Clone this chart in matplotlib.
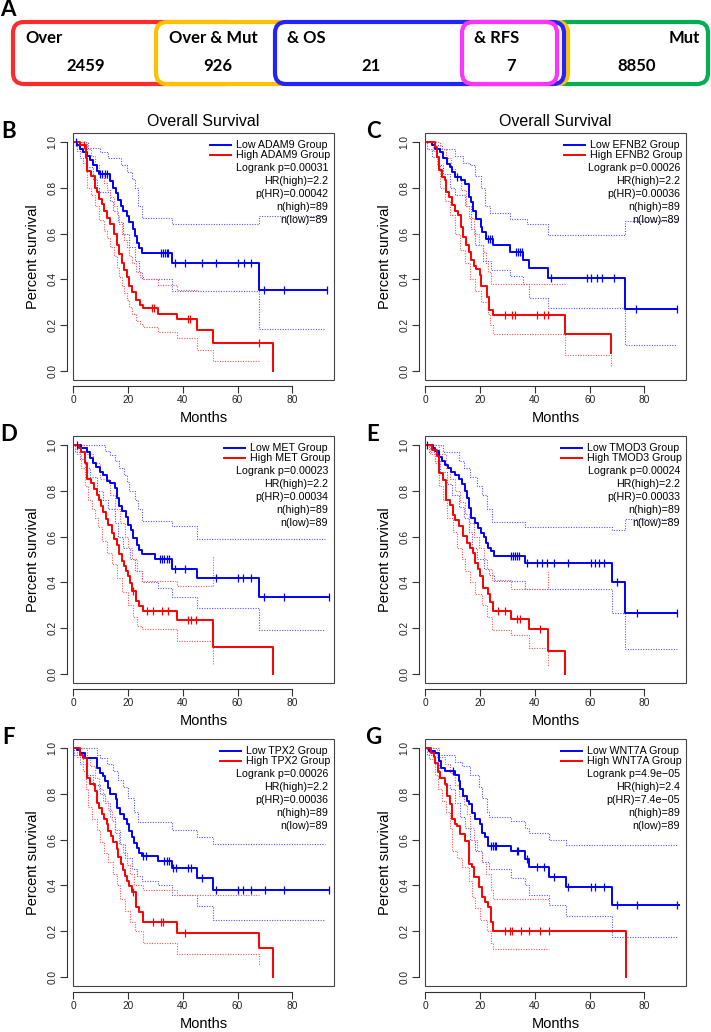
import matplotlib
matplotlib.use("Agg")
import matplotlib.pyplot as plt
from matplotlib.patches import FancyBboxPatch, Rectangle
import numpy as np

plt.rcParams["font.family"] = ["Liberation Sans", "DejaVu Sans"]

# ---- panel A: overlap counts ----
OVERLAP_LABELS = ["Over", "Over & Mut", "& OS", "& RFS", "Mut"]
OVERLAP_COUNTS = [2459, 926, 21, 7, 8850]

# ---- panels B-G: KM curves, [months, survival] step points ----
GENES = ["ADAM9", "EFNB2", "MET", "TMOD3", "TPX2", "WNT7A"]
LOGRANK_P = ["0.00031", "0.00026", "0.00023", "0.00024", "0.00026", "4.9e\u221205"]
HR_HIGH = ["2.2", "2.2", "2.2", "2.2", "2.2", "2.4"]
P_HR = ["0.00042", "0.00036", "0.00034", "0.00033", "0.00036", "7.4e\u221205"]
N_HIGH = [89, 89, 89, 89, 89, 89]
N_LOW = [89, 89, 89, 89, 89, 89]

B_LOW = [[0, 1], [1.5, 0.985], [2.4, 0.97], [3.7, 0.955], [5.1, 0.94], [6.1, 0.92], [7.3, 0.9], [8.5, 0.875],
         [9.5, 0.86], [13.4, 0.83], [14.6, 0.80], [15.6, 0.775], [16.4, 0.745], [17.3, 0.72], [18.3, 0.70],
         [19.5, 0.675], [20.5, 0.65], [21.9, 0.62], [22.5, 0.59], [23.1, 0.56], [24.1, 0.535], [25.2, 0.515],
         [35.9, 0.472], [68.0, 0.354], [92.6, 0.354]]
B_HIGH = [[0, 1], [2.4, 0.985], [4.6, 0.93], [5.2, 0.875], [6.3, 0.85], [7.9, 0.80], [8.8, 0.78], [9.5, 0.75],
          [10.4, 0.73], [11.2, 0.70], [12.2, 0.67], [13.4, 0.64], [15.0, 0.60], [15.8, 0.55], [16.7, 0.51],
          [17.7, 0.47], [18.6, 0.44], [19.5, 0.41], [20.5, 0.37], [21.3, 0.345], [22.9, 0.31], [24.4, 0.29],
          [25.3, 0.275], [31.1, 0.25], [37.8, 0.225], [45.1, 0.18], [50.9, 0.12], [73.1, 0.0]]
B_LOW_UP = [[0, 1], [5.5, 0.975], [9.7, 0.955], [12.8, 0.93], [17.3, 0.9], [19.5, 0.87], [21.3, 0.84],
            [22.5, 0.80], [23.8, 0.72], [25.2, 0.668], [35.9, 0.643], [68.0, 0.676], [91.5, 0.676]]
B_LOW_DN = [[0, 1], [1.5, 0.96], [2.4, 0.93], [3.7, 0.91], [5.1, 0.89], [7.3, 0.84], [8.5, 0.80], [9.5, 0.78],
            [13.4, 0.74], [14.6, 0.70], [16.4, 0.65], [18.3, 0.6], [20.5, 0.54], [22.5, 0.48], [24.1, 0.43],
            [25.2, 0.40], [35.9, 0.35], [68.0, 0.185], [91.5, 0.185]]
B_HIGH_UP = [[0, 1], [4.6, 0.99], [5.2, 0.97], [6.3, 0.94], [7.9, 0.9], [9.5, 0.86], [11.2, 0.82], [12.2, 0.79],
             [13.4, 0.76], [15.0, 0.72], [15.8, 0.68], [16.7, 0.64], [17.7, 0.60], [18.6, 0.57], [19.5, 0.54],
             [20.5, 0.50], [21.3, 0.47], [22.9, 0.43], [24.4, 0.41], [25.3, 0.40], [31.1, 0.375], [37.8, 0.355],
             [45.1, 0.355]]
B_HIGH_DN = [[0, 1], [2.4, 0.955], [4.6, 0.87], [5.2, 0.80], [6.3, 0.77], [7.9, 0.72], [9.5, 0.66], [11.2, 0.61],
             [12.2, 0.58], [13.4, 0.54], [15.0, 0.50], [15.8, 0.45], [16.7, 0.41], [17.7, 0.37], [18.6, 0.34],
             [19.5, 0.31], [20.5, 0.28], [21.3, 0.25], [22.9, 0.22], [24.4, 0.205], [25.3, 0.19], [31.1, 0.17],
             [37.8, 0.145], [45.1, 0.093], [50.9, 0.042], [68.0, 0.042]]
B_LOW_CENS = [1.0, 9.7, 10.6, 11.5, 12.5, 31.9, 32.6, 33.4, 34.1, 34.7, 37.1, 40.9, 47.0, 52.0, 60.0, 62.2,
              64.8, 69.8, 77.0, 92.6]
B_HIGH_CENS = [4.0, 28.6, 29.5, 42.0, 42.6, 68.0]

C_LOW = [[0, 1], [2.3, 0.985], [3.5, 0.97], [5.2, 0.955], [6.5, 0.93], [8.0, 0.905], [8.9, 0.89], [9.7, 0.87],
         [10.7, 0.845], [12.9, 0.835], [14.4, 0.818], [15.8, 0.76], [16.8, 0.738], [17.4, 0.70], [18.6, 0.665],
         [20.2, 0.63], [20.8, 0.607], [22.0, 0.578], [24.7, 0.55], [30.8, 0.52], [35.7, 0.485], [37.8, 0.45],
         [44.9, 0.405], [72.9, 0.27], [91.9, 0.27]]
C_HIGH = [[0, 1], [3.5, 0.98], [4.3, 0.935], [4.9, 0.876], [6.1, 0.847], [7.1, 0.835], [7.7, 0.78], [8.6, 0.76],
          [9.7, 0.723], [10.7, 0.70], [11.9, 0.68], [12.9, 0.63], [13.7, 0.585], [15.0, 0.55], [15.9, 0.52],
          [16.8, 0.483], [17.7, 0.46], [18.6, 0.447], [19.9, 0.418], [20.5, 0.37], [22.6, 0.323], [23.3, 0.265],
          [24.6, 0.243], [50.9, 0.163], [67.8, 0.079]]
C_LOW_UP = [[0, 1], [3.5, 0.985], [6.1, 0.97], [10.7, 0.94], [13.7, 0.91], [16.2, 0.9], [18.0, 0.85], [20.5, 0.80],
            [21.7, 0.72], [23.5, 0.69], [30.8, 0.665], [37.0, 0.64], [44.9, 0.595], [72.9, 0.655], [91.9, 0.655]]
C_LOW_DN = [[0, 1], [0.5, 0.97], [2.3, 0.935], [4.7, 0.90], [6.5, 0.86], [8.9, 0.80], [10.7, 0.77], [14.4, 0.72],
            [16.8, 0.62], [18.0, 0.55], [21.1, 0.48], [24.1, 0.44], [30.8, 0.415], [35.7, 0.38], [37.8, 0.32],
            [44.9, 0.275], [72.9, 0.115], [91.9, 0.115]]
C_HIGH_UP = [[0, 1], [5.3, 0.97], [7.7, 0.93], [9.5, 0.88], [10.7, 0.85], [13.1, 0.79], [14.9, 0.72], [16.1, 0.67],
             [17.9, 0.60], [19.7, 0.55], [21.0, 0.52], [22.2, 0.47], [22.8, 0.43], [24.1, 0.38], [50.9, 0.38]]
C_HIGH_DN = [[0, 1], [2.9, 0.96], [4.1, 0.90], [5.3, 0.80], [7.1, 0.74], [8.9, 0.68], [10.7, 0.60], [12.6, 0.53],
             [14.4, 0.47], [16.2, 0.40], [18.0, 0.35], [20.5, 0.30], [22.7, 0.25], [23.6, 0.20], [24.6, 0.16],
             [50.9, 0.07], [67.8, 0.02]]
C_LOW_CENS = [11.7, 22.8, 23.6, 24.3, 33.2, 34.0, 34.7, 35.2, 46.0, 59.1, 60.6, 62.5, 64.5, 68.7, 76.9, 91.9]
C_HIGH_CENS = [28.9, 31.7, 32.9, 40.8, 43.2, 44.8]

D_LOW = [[0, 1], [3.0, 0.986], [5.1, 0.971], [6.1, 0.942], [7.3, 0.92], [8.3, 0.903], [9.7, 0.884], [11.0, 0.87],
         [12.4, 0.841], [13.4, 0.833], [15.2, 0.812], [16.1, 0.768], [16.8, 0.732], [17.7, 0.71], [19.2, 0.686],
         [20.1, 0.652], [21.1, 0.63], [21.9, 0.594], [23.4, 0.565], [24.1, 0.543], [25.0, 0.522], [29.8, 0.50],
         [35.9, 0.46], [45.1, 0.418], [68.0, 0.335], [93.2, 0.335]]
D_HIGH = [[0, 1], [2.2, 0.986], [3.0, 0.971], [4.3, 0.92], [5.1, 0.851], [6.3, 0.833], [7.7, 0.807], [8.5, 0.783],
          [9.4, 0.761], [10.1, 0.732], [11.0, 0.706], [11.9, 0.677], [12.8, 0.652], [14.0, 0.616], [15.0, 0.59],
          [15.8, 0.565], [16.8, 0.522], [17.7, 0.493], [18.5, 0.471], [19.2, 0.449], [20.1, 0.428], [20.9, 0.396],
          [21.6, 0.362], [22.9, 0.319], [24.1, 0.297], [25.3, 0.275], [37.8, 0.235], [50.9, 0.116], [73.1, 0.0]]
D_LOW_UP = [[0, 1], [11.6, 0.975], [13.4, 0.955], [15.2, 0.93], [16.8, 0.90], [18.5, 0.87], [19.5, 0.84],
            [20.5, 0.80], [22.5, 0.76], [23.8, 0.72], [25.0, 0.67], [35.9, 0.645], [45.1, 0.59], [92.0, 0.59]]
D_LOW_DN = [[0, 1], [0.6, 0.97], [2.4, 0.94], [4.3, 0.90], [6.1, 0.86], [8.5, 0.80], [11.0, 0.76], [12.8, 0.72],
            [15.2, 0.66], [16.4, 0.60], [18.3, 0.55], [20.7, 0.50], [22.5, 0.45], [25.0, 0.40], [31.1, 0.375],
            [35.9, 0.335], [45.1, 0.29], [68.0, 0.19], [92.0, 0.19]]
D_HIGH_UP = [[0, 1], [4.9, 0.96], [7.3, 0.92], [9.7, 0.85], [13.4, 0.78], [15.2, 0.72], [17.1, 0.66], [18.9, 0.60],
             [20.1, 0.55], [21.3, 0.50], [23.1, 0.45], [25.0, 0.405], [37.8, 0.385], [50.9, 0.515]]
D_HIGH_DN = [[0, 1], [1.2, 0.96], [3.0, 0.90], [4.3, 0.82], [5.5, 0.76], [6.7, 0.72], [7.9, 0.68], [9.1, 0.64],
             [10.4, 0.58], [12.2, 0.53], [14.0, 0.48], [15.8, 0.42], [17.7, 0.36], [20.1, 0.30], [21.9, 0.25],
             [23.1, 0.21], [25.0, 0.195], [37.8, 0.145], [50.9, 0.04]]
D_LOW_CENS = [1.2, 31.7, 32.5, 33.3, 34.1, 35.0, 37.1, 40.8, 52.0, 60.0, 62.1, 64.8, 69.8, 77.0, 93.2]
D_HIGH_CENS = [21.9, 26.8, 29.0, 32.3, 34.7, 42.0, 42.9, 44.8]

E_LOW = [[0, 1], [2.7, 0.986], [3.7, 0.975], [5.1, 0.949], [6.1, 0.928], [7.1, 0.913], [8.3, 0.899], [9.5, 0.884],
         [10.7, 0.87], [12.2, 0.851], [13.2, 0.83], [14.4, 0.797], [15.2, 0.768], [16.1, 0.725], [16.8, 0.681],
         [18.0, 0.657], [19.2, 0.638], [20.5, 0.616], [21.3, 0.599], [22.3, 0.572], [22.9, 0.551], [23.8, 0.536],
         [25.0, 0.517], [36.3, 0.486], [68.0, 0.401], [72.8, 0.268], [92.0, 0.268]]
E_HIGH = [[0, 1], [2.4, 0.978], [4.3, 0.952], [4.9, 0.877], [6.3, 0.848], [7.7, 0.761], [9.1, 0.739], [10.0, 0.696],
          [10.7, 0.674], [12.4, 0.645], [13.6, 0.601], [15.2, 0.572], [16.4, 0.551], [17.3, 0.529], [18.3, 0.486],
          [19.2, 0.457], [20.1, 0.428], [21.1, 0.377], [22.9, 0.348], [23.5, 0.312], [24.7, 0.275], [31.1, 0.242],
          [37.8, 0.196], [44.8, 0.101], [50.9, 0.0]]
E_LOW_UP = [[0, 1], [6.3, 0.97], [12.2, 0.93], [14.0, 0.90], [16.4, 0.86], [18.9, 0.82], [20.7, 0.78], [22.5, 0.72],
            [24.4, 0.665], [36.3, 0.64], [68.0, 0.63], [72.8, 0.675], [92.0, 0.675]]
E_LOW_DN = [[0, 1], [1.2, 0.97], [3.7, 0.93], [5.5, 0.88], [7.9, 0.83], [9.7, 0.78], [12.2, 0.73], [14.0, 0.68],
            [15.8, 0.62], [17.1, 0.55], [18.9, 0.50], [21.3, 0.46], [23.1, 0.43], [25.0, 0.405], [36.3, 0.37],
            [68.0, 0.265], [72.8, 0.11], [92.0, 0.11]]
E_HIGH_UP = [[0, 1], [4.9, 0.96], [7.7, 0.90], [9.1, 0.85], [10.7, 0.80], [12.8, 0.75], [14.6, 0.70], [15.8, 0.66],
             [17.7, 0.60], [19.5, 0.55], [21.3, 0.50], [22.5, 0.46], [24.4, 0.41], [31.1, 0.37], [44.8, 0.45]]
E_HIGH_DN = [[0, 1], [1.8, 0.96], [3.7, 0.92], [4.9, 0.82], [6.3, 0.76], [7.9, 0.68], [10.0, 0.62], [11.6, 0.55],
             [13.2, 0.50], [14.6, 0.45], [16.4, 0.40], [18.3, 0.35], [20.7, 0.30], [22.5, 0.25], [24.4, 0.19],
             [31.1, 0.17], [37.8, 0.115], [44.8, 0.03]]
E_LOW_CENS = [0.6, 31.1, 31.9, 32.6, 33.5, 34.1, 37.1, 40.8, 42.6, 44.5, 46.9, 52.0, 60.3, 61.8, 63.3, 65.2, 70.0,
              77.1, 92.0]
E_HIGH_CENS = [26.6, 29.2, 33.5, 34.7, 42.0]

F_LOW = [[0, 1], [1.2, 0.993], [2.4, 0.978], [4.3, 0.954], [8.5, 0.913], [9.7, 0.891], [10.7, 0.877], [11.6, 0.855],
         [12.8, 0.826], [13.6, 0.797], [15.6, 0.775], [16.1, 0.739], [17.1, 0.71], [18.5, 0.688], [19.5, 0.67],
         [20.5, 0.638], [21.3, 0.609], [22.2, 0.587], [23.1, 0.565], [24.1, 0.543], [25.0, 0.529], [31.1, 0.507],
         [35.9, 0.475], [45.1, 0.43], [50.9, 0.378], [93.2, 0.378]]
F_HIGH = [[0, 1], [2.4, 0.97], [3.7, 0.955], [5.1, 0.87], [6.1, 0.841], [7.9, 0.812], [8.5, 0.761], [9.5, 0.739],
          [10.4, 0.71], [11.2, 0.688], [12.2, 0.667], [12.8, 0.638], [13.8, 0.616], [14.6, 0.591], [15.8, 0.558],
          [16.4, 0.525], [17.3, 0.493], [18.0, 0.467], [18.9, 0.442], [19.7, 0.42], [20.5, 0.399], [21.6, 0.37],
          [22.9, 0.307], [24.1, 0.283], [25.3, 0.239], [37.8, 0.191], [68.0, 0.126], [73.1, 0.0]]
F_LOW_UP = [[0, 1], [8.5, 0.97], [9.7, 0.955], [12.2, 0.93], [14.6, 0.90], [16.4, 0.86], [18.3, 0.83], [20.1, 0.78],
            [22.0, 0.72], [23.8, 0.675], [35.9, 0.64], [45.1, 0.61], [50.9, 0.58], [91.9, 0.58]]
F_LOW_DN = [[0, 1], [0.2, 0.97], [2.4, 0.93], [4.9, 0.88], [7.3, 0.84], [9.7, 0.80], [11.6, 0.76], [13.4, 0.70],
            [15.2, 0.64], [17.1, 0.58], [18.9, 0.52], [21.3, 0.47], [23.1, 0.44], [25.0, 0.42], [31.1, 0.40],
            [35.9, 0.36], [45.1, 0.31], [50.9, 0.25], [91.9, 0.25]]
F_HIGH_UP = [[0, 1], [5.1, 0.96], [6.1, 0.92], [7.9, 0.87], [9.5, 0.82], [11.0, 0.77], [12.8, 0.73], [14.0, 0.68],
             [15.2, 0.63], [16.8, 0.58], [18.3, 0.54], [19.5, 0.49], [20.7, 0.45], [22.3, 0.40], [25.3, 0.38],
             [37.8, 0.36], [68.0, 0.36]]
F_HIGH_DN = [[0, 1], [1.2, 0.96], [3.4, 0.90], [4.6, 0.82], [5.5, 0.74], [7.0, 0.69], [8.5, 0.64], [9.7, 0.59],
             [11.2, 0.54], [12.8, 0.50], [14.6, 0.45], [15.8, 0.40], [17.1, 0.34], [18.9, 0.29], [20.7, 0.24],
             [22.5, 0.20], [25.3, 0.15], [37.8, 0.10], [68.0, 0.05]]
F_LOW_CENS = [25.6, 26.4, 33.1, 34.1, 35.0, 36.5, 37.5, 42.0, 42.9, 47.1, 52.1, 60.0, 62.1, 64.8, 70.0, 77.1, 93.2]
F_HIGH_CENS = [21.9, 29.0, 31.9, 32.9, 40.8]

G_LOW = [[0, 1], [1.2, 0.988], [3.7, 0.978], [4.9, 0.942], [5.8, 0.913], [7.3, 0.899], [10.7, 0.884], [12.2, 0.855],
         [12.8, 0.819], [13.8, 0.79], [15.2, 0.768], [16.1, 0.754], [17.1, 0.717], [18.0, 0.688], [19.9, 0.667],
         [20.7, 0.63], [21.6, 0.609], [22.9, 0.572], [31.1, 0.548], [36.3, 0.514], [38.0, 0.481], [45.1, 0.438],
         [51.2, 0.394], [68.0, 0.314], [92.6, 0.314]]
G_HIGH = [[0, 1], [2.2, 0.978], [3.0, 0.959], [3.7, 0.935], [4.6, 0.896], [5.5, 0.87], [7.1, 0.841], [7.9, 0.79],
          [8.9, 0.754], [9.7, 0.688], [10.7, 0.667], [11.6, 0.659], [12.8, 0.623], [14.6, 0.594], [16.1, 0.493],
          [17.1, 0.478], [17.9, 0.435], [19.5, 0.391], [20.7, 0.348], [21.7, 0.326], [22.8, 0.304], [23.8, 0.239],
          [24.7, 0.2], [73.1, 0.0]]
G_LOW_UP = [[0, 1], [4.9, 0.97], [10.7, 0.94], [13.4, 0.92], [16.4, 0.88], [19.5, 0.83], [20.7, 0.78], [22.5, 0.72],
            [23.1, 0.70], [31.1, 0.68], [36.3, 0.65], [38.0, 0.63], [45.1, 0.60], [51.2, 0.575], [92.0, 0.575]]
G_LOW_DN = [[0, 1], [0.6, 0.97], [3.0, 0.93], [4.9, 0.87], [6.7, 0.84], [9.1, 0.82], [10.9, 0.76], [12.8, 0.70],
            [14.6, 0.65], [16.4, 0.60], [18.3, 0.55], [20.7, 0.50], [23.1, 0.47], [31.1, 0.43], [36.3, 0.40],
            [38.0, 0.36], [45.1, 0.315], [51.2, 0.265], [68.0, 0.175], [92.0, 0.175]]
G_HIGH_UP = [[0, 1], [4.3, 0.96], [7.3, 0.93], [8.9, 0.89], [10.7, 0.84], [12.2, 0.79], [14.0, 0.75], [15.2, 0.71],
             [16.4, 0.65], [17.7, 0.60], [18.9, 0.55], [20.7, 0.50], [22.2, 0.45], [23.8, 0.38], [24.7, 0.34],
             [45.1, 0.34]]
G_HIGH_DN = [[0, 1], [1.5, 0.95], [3.7, 0.88], [4.6, 0.82], [6.1, 0.77], [7.6, 0.72], [8.9, 0.65], [9.7, 0.55],
             [11.6, 0.52], [13.2, 0.48], [15.8, 0.42], [17.1, 0.35], [18.3, 0.30], [20.1, 0.25], [22.5, 0.20],
             [23.8, 0.15], [24.7, 0.12], [45.1, 0.12]]
G_LOW_CENS = [10.0, 24.1, 24.7, 25.3, 25.9, 33.3, 33.9, 37.1, 40.8, 43.2, 47.1, 52.0, 60.3, 61.8, 65.2, 70.0,
              77.1, 92.0]
G_HIGH_CENS = [29.0, 30.8, 31.7, 35.1, 38.0, 42.0, 45.1]

PANELS = [
    ("B", B_LOW, B_HIGH, B_LOW_UP, B_LOW_DN, B_HIGH_UP, B_HIGH_DN, B_LOW_CENS, B_HIGH_CENS),
    ("C", C_LOW, C_HIGH, C_LOW_UP, C_LOW_DN, C_HIGH_UP, C_HIGH_DN, C_LOW_CENS, C_HIGH_CENS),
    ("D", D_LOW, D_HIGH, D_LOW_UP, D_LOW_DN, D_HIGH_UP, D_HIGH_DN, D_LOW_CENS, D_HIGH_CENS),
    ("E", E_LOW, E_HIGH, E_LOW_UP, E_LOW_DN, E_HIGH_UP, E_HIGH_DN, E_LOW_CENS, E_HIGH_CENS),
    ("F", F_LOW, F_HIGH, F_LOW_UP, F_LOW_DN, F_HIGH_UP, F_HIGH_DN, F_LOW_CENS, F_HIGH_CENS),
    ("G", G_LOW, G_HIGH, G_LOW_UP, G_LOW_DN, G_HIGH_UP, G_HIGH_DN, G_LOW_CENS, G_HIGH_CENS),
]

W, H = 711, 1032
BLUE, RED = "#0000ff", "#ff0000"
BLUE_CI, RED_CI = "#5555ff", "#ff5555"
BOLD_FONT = ["Lato", "DejaVu Sans"]

fig = plt.figure(figsize=(W / 100, H / 100), dpi=100)
fig.patch.set_facecolor("white")


def fx(x):
    return x / W


def fy(y):
    return 1 - y / H


# ---------------- panel A ----------------
ax_a = fig.add_axes([0, 0, 1, 1])
ax_a.set_xlim(0, W)
ax_a.set_ylim(H, 0)
ax_a.axis("off")
ax_a.patch.set_visible(False)

# (left, right, colour) drawn in this order
box_geom = [(13, 240, "#ff2b2b"), (555, 708, "#00b050"), (156, 568, "#ffc000"),
            (275, 564, "#2323ff"), (462, 557, "#ff33ff")]
for x0, x1, col in box_geom:
    ax_a.add_patch(FancyBboxPatch((x0, 22), x1 - x0, 62, boxstyle="round,pad=0,rounding_size=11",
                                  fc="white", ec=col, lw=3))

label_pos = [(25, "left"), (169, "left"), (287, "left"), (474, "left"), (700, "right")]
count_x = [86, 218, 371, 511, 637]
for lab, (lx, ha), cnt, cx in zip(OVERLAP_LABELS, label_pos, OVERLAP_COUNTS, count_x):
    ax_a.text(lx, 38, lab, ha=ha, va="center", fontsize=12, fontweight="bold", family=BOLD_FONT, zorder=10)
    ax_a.text(cx, 66, str(cnt), ha="center", va="center", fontsize=12, fontweight="bold",
              family=BOLD_FONT, zorder=10)
fig.text(fx(8), fy(10), "A", ha="center", va="center", fontsize=16, fontweight="bold", family=BOLD_FONT)

# ---------------- panels B-G ----------------
COL_LEFT = [72.7, 424.8]
ROW_TOP = [132.8, 435.8, 738.8]
LETTER_X = [9, 373]
AX_W, AX_H = 261.3, 247.3
FS_TICK, FS_LAB, FS_LEG = 7.3, 10.5, 7.7

renderer = fig.canvas.get_renderer()


def km_step(ax, pts, **kw):
    t = [p[0] for p in pts]
    s = [p[1] for p in pts]
    ax.step(t, s, where="post", **kw)


def surv_at(pts, times):
    t = np.array([p[0] for p in pts])
    s = np.array([p[1] for p in pts])
    idx = np.searchsorted(t, times, side="right") - 1
    return s[idx]


for i, (letter, low, high, low_up, low_dn, high_up, high_dn, low_c, high_c) in enumerate(PANELS):
    col, row = i % 2, i // 2
    left, top = COL_LEFT[col], ROW_TOP[row]
    ax = fig.add_axes([fx(left), fy(top + AX_H), AX_W / W, AX_H / H])
    ax.set_xlim(-0.2, 95.2)
    ax.set_ylim(-0.04, 1.04)

    ci_kw = dict(lw=0.8, linestyle=(0, (1, 1.3)))
    km_step(ax, low_up, color=BLUE_CI, **ci_kw)
    km_step(ax, low_dn, color=BLUE_CI, **ci_kw)
    km_step(ax, high_up, color=RED_CI, **ci_kw)
    km_step(ax, high_dn, color=RED_CI, **ci_kw)
    km_step(ax, low, color=BLUE, lw=1.4)
    km_step(ax, high, color=RED, lw=1.4)
    ax.plot(low_c, surv_at(low, low_c), ls="none", marker="|", ms=6, mew=0.9, color=BLUE)
    ax.plot(high_c, surv_at(high, high_c), ls="none", marker="|", ms=6, mew=0.9, color=RED)

    # R style axes: box plus detached axis lines
    for s in ["top", "right"]:
        ax.spines[s].set_visible(False)
    for s in ["left", "bottom"]:
        ax.spines[s].set_position(("outward", 4))
        ax.spines[s].set_linewidth(0.8)
        ax.spines[s].set_color("#333333")
    ax.spines["left"].set_bounds(0, 1)
    ax.spines["bottom"].set_bounds(0, 80)
    ax.add_patch(Rectangle((0, 0), 1, 1, transform=ax.transAxes, fill=False, ec="#444444", lw=0.8,
                           clip_on=False, zorder=5))
    ax.set_xticks([0, 20, 40, 60, 80])
    ax.set_yticks([0, 0.2, 0.4, 0.6, 0.8, 1.0])
    ax.set_yticklabels(["0.0", "0.2", "0.4", "0.6", "0.8", "1.0"], rotation=90, va="center")
    ax.tick_params(direction="out", length=5, width=0.8, labelsize=FS_TICK, pad=2, colors="#333333",
                   labelcolor="#222222")

    cx = left + AX_W / 2
    fig.text(fx(cx), fy(top + AX_H + 38), "Months", ha="center", va="center", fontsize=FS_LAB)
    fig.text(fx(left - 40), fy(top + AX_H / 2), "Percent survival", ha="center", va="center",
             rotation=90, fontsize=FS_LAB)
    if row == 0:
        fig.text(fx(cx), fy(122), "Overall Survival", ha="center", va="center", fontsize=11.5)
    fig.text(fx(LETTER_X[col]), fy(top - 1), letter, ha="center", va="center", fontsize=16,
             fontweight="bold", family=BOLD_FONT)

    # legend block
    gene = GENES[i]
    y1, y2 = 1 - 12 / AX_H, 1 - 22.5 / AX_H
    hi = ax.text(1 - 4 / AX_W, y2, f"High {gene} Group", ha="right", va="center", fontsize=FS_LEG,
                 transform=ax.transAxes)
    bb = hi.get_window_extent(renderer=renderer)
    lx = ax.transAxes.inverted().transform((bb.x0, bb.y0))[0]
    ax.text(lx, y1, f"Low {gene} Group", ha="left", va="center", fontsize=FS_LEG, transform=ax.transAxes)
    ax.plot([lx - 26 / AX_W, lx - 5 / AX_W], [y1, y1], color=BLUE, lw=1.4, transform=ax.transAxes)
    ax.plot([lx - 26 / AX_W, lx - 5 / AX_W], [y2, y2], color=RED, lw=1.4, transform=ax.transAxes)
    stats = [f"Logrank p={LOGRANK_P[i]}", f"HR(high)={HR_HIGH[i]}", f"p(HR)={P_HR[i]}",
             f"n(high)={N_HIGH[i]}", f"n(low)={N_LOW[i]}"]
    for k, txt in enumerate(stats):
        ax.text(1 - 6 / AX_W, 1 - (35.5 + 13 * k) / AX_H, txt, ha="right", va="center", fontsize=FS_LEG,
                transform=ax.transAxes)

fig.savefig("out.png", dpi=100, facecolor="white")
